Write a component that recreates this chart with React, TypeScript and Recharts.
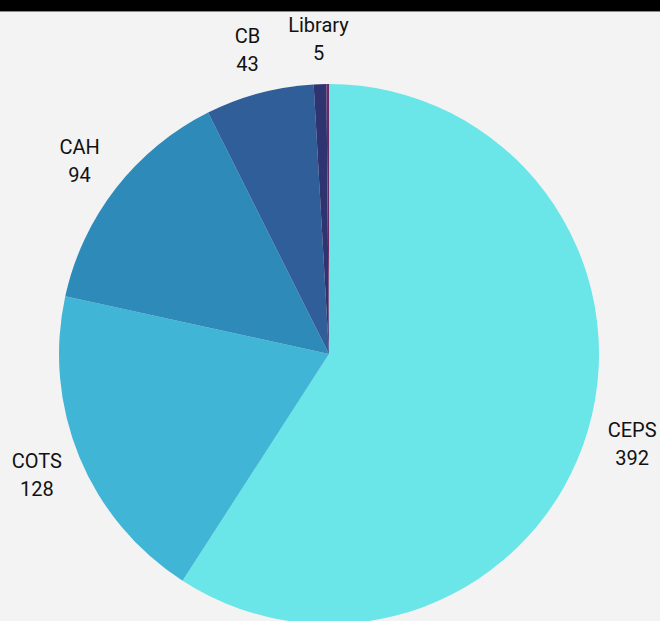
import React from 'react';
import { PieChart, Pie, Cell } from 'recharts';

const names = ['CEPS', 'COTS', 'CAH', 'CB', 'Library', 'Other'];
const values = [392, 128, 94, 43, 5, 1];
const colors = ['#6AE5E8', '#40B5D5', '#2D8AB9', '#2F5E98', '#2E3470', '#6A2A62'];
const hiddenLabels = ['Other'];

const data = names.map((name, i) => ({ name, value: values[i] }));

const RADIAN = Math.PI / 180;

const renderLabel = (props: any) => {
  const { cx, cy, midAngle, outerRadius, name, value } = props;
  if (hiddenLabels.includes(name)) return null;
  const r = outerRadius + 46;
  const x = cx + r * Math.cos(-midAngle * RADIAN);
  const y = cy + r * Math.sin(-midAngle * RADIAN);
  return (
    <text
      x={x}
      y={y}
      textAnchor="middle"
      fill="#111"
      fontSize={20}
      fontFamily="Roboto, 'Open Sans', sans-serif"
    >
      <tspan x={x} y={y - 6}>{name}</tspan>
      <tspan x={x} y={y + 22}>{value}</tspan>
    </text>
  );
};

const App: React.FC = () => {
  return (
    <div
      style={{
        position: 'absolute',
        left: 0,
        top: 0,
        width: 660,
        height: 621,
        background: '#f3f3f3',
        overflow: 'hidden',
      }}
    >
      <PieChart
        width={660}
        height={621}
        margin={{ top: 0, right: 0, bottom: 0, left: 0 }}
        style={{ position: 'absolute', left: 0, top: 0 }}
      >
        <Pie
          data={data}
          dataKey="value"
          nameKey="name"
          cx={329}
          cy={354}
          outerRadius={270}
          startAngle={90}
          endAngle={-270}
          stroke="none"
          label={renderLabel}
          labelLine={false}
          isAnimationActive={false}
        >
          {data.map((d, i) => (
            <Cell key={d.name} fill={colors[i]} />
          ))}
        </Pie>
      </PieChart>
      <div
        style={{
          position: 'absolute',
          left: 0,
          top: 0,
          width: 660,
          height: 11,
          background: '#000',
          borderBottom: '1px solid #888',
        }}
      />
    </div>
  );
};

export default App;
